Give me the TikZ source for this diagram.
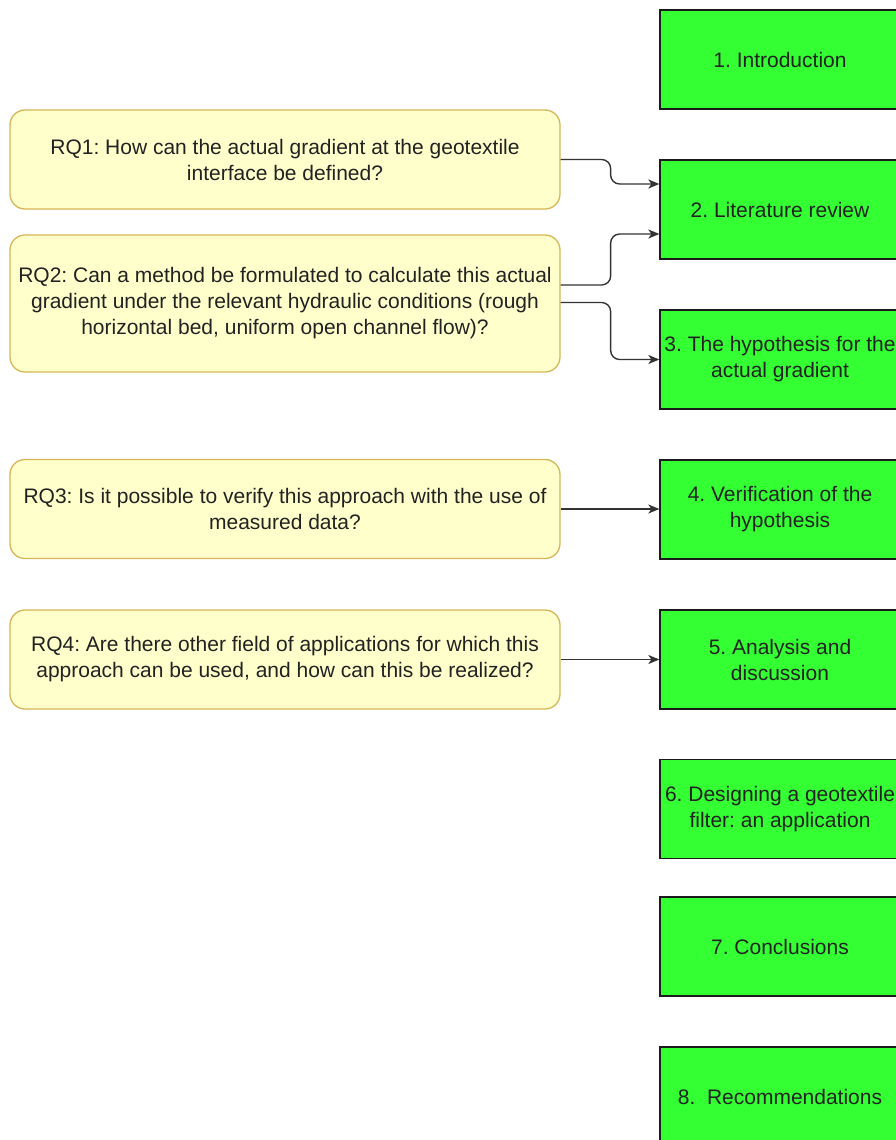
\documentclass[tikz,border=0pt]{standalone}
\usepackage{fontspec}
\setmainfont{Liberation Sans}
\usetikzlibrary{arrows.meta,calc}
\definecolor{gfill}{HTML}{33FF33}
\definecolor{gline}{HTML}{1A1A1A}
\definecolor{yfill}{HTML}{FFFFCC}
\definecolor{yline}{HTML}{D6B656}
\definecolor{txt}{HTML}{222222}
\definecolor{conn}{HTML}{333333}
\frenchspacing
\tikzset{
  chap/.style={draw=gline, fill=gfill, line width=1.3pt, minimum width=240pt, minimum height=99pt,
    inner sep=0pt, align=center, text=txt, font=\fontsize{21}{26}\selectfont},
  rq/.style={draw=yline, fill=yfill, line width=1.3pt, rounded corners=15pt, minimum width=550pt,
    inner sep=0pt, align=center, text=txt, font=\fontsize{21}{26}\selectfont},
  link/.style={draw=conn, line width=1.4pt, rounded corners=9pt, -{Stealth[length=11pt,width=9pt,inset=3pt]}}
}
\begin{document}
\begin{tikzpicture}[x=1pt,y=-1pt]
\useasboundingbox (0,0) rectangle (896,1140);
\clip (0,0) rectangle (896,1140);
% chapter boxes
\node[chap] (b1) at (780,59.5) {1. Introduction};
\node[chap] (b2) at (780,209.5) {2. Literature review};
\node[chap] (b3) at (780,359.5) {3. The hypothesis for the\\actual gradient};
\node[chap] (b4) at (780,509.5) {4. Verification of the\\hypothesis};
\node[chap] (b5) at (780,659.5) {5. Analysis and\\discussion};
\node[chap] (b6) at (780,809) {6. Designing a geotextile\\filter: an application};
\node[chap] (b7) at (780,946.5) {7. Conclusions};
\node[chap] (b8) at (780,1096.5) {8.\ \ Recommendations};
% research questions
\node[rq, minimum height=99pt] (q1) at (285,159.5) {RQ1: How can the actual gradient at the geotextile\\interface be defined?};
\node[rq, minimum height=137pt] (q2) at (285,303.5) {RQ2: Can a method be formulated to calculate this actual\\gradient under the relevant hydraulic conditions (rough\\horizontal bed, uniform open channel flow)?};
\node[rq, minimum height=99pt] (q3) at (285,509) {RQ3: Is it possible to verify this approach with the use of\\measured data?};
\node[rq, minimum height=99pt] (q4) at (285,659.5) {RQ4: Are there other field of applications for which this\\approach can be used, and how can this be realized?};
% anchor points
\coordinate (q1o) at (q1.east);
\coordinate (q2a) at ($(q2.east)+(0,-18.5)$);
\coordinate (q2b) at ($(q2.east)+(0,-1)$);
\coordinate (b2a) at ($(b2.west)+(0,-25.5)$);
\coordinate (b2b) at ($(b2.west)+(0,24.5)$);
% connectors
\draw[link] (q1o) -- ++(50,0) |- (b2a);
\draw[link] (q2a) -- ++(50,0) |- (b2b);
\draw[link] (q2b) -- ++(50,0) |- (b3.west);
\draw[link] (q3.east) -- (q3.east -| b4.west);
\draw[link] (q4.east) -- (q4.east -| b5.west);
\end{tikzpicture}
\end{document}
